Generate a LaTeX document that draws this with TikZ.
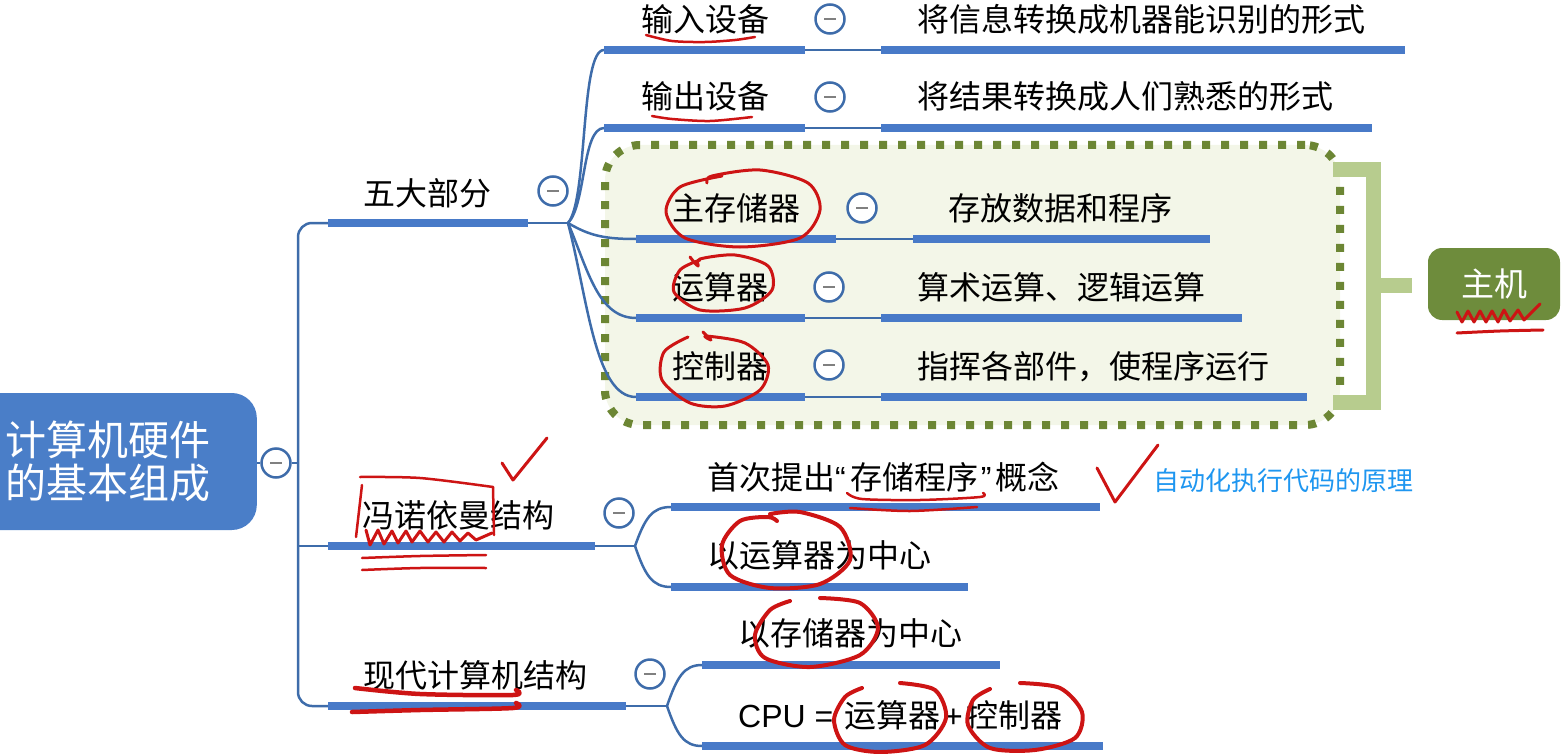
\documentclass[tikz,border=0pt]{standalone}
\usepackage{fontspec}
\setmainfont{Noto Sans CJK SC}
\newfontfamily\latinfont{Liberation Sans}
\definecolor{barblue}{RGB}{72,122,200}
\definecolor{lineblue}{RGB}{62,108,170}
\definecolor{rootblue}{RGB}{74,126,200}
\definecolor{olivedot}{RGB}{108,134,52}
\definecolor{boxfill}{RGB}{243,246,232}
\definecolor{brk}{RGB}{183,204,142}
\definecolor{hostgreen}{RGB}{110,140,60}
\definecolor{penred}{RGB}{205,20,20}
\definecolor{noteblue}{RGB}{30,150,240}
\begin{document}
\begin{tikzpicture}[x=1pt,y=-1pt,
 lbl/.style={anchor=west, inner sep=0, font=\fontsize{32}{34}\selectfont, text height=28pt, text depth=4pt},
 note/.style={anchor=west, inner sep=0, font=\fontsize{26}{28}\selectfont, text=noteblue, text height=23pt, text depth=3pt},
 bar/.style={barblue, line width=8pt},
 thinl/.style={lineblue, line width=2.5pt},
 tog/.style={circle, draw=lineblue, line width=2.5pt, fill=white, minimum size=29pt, inner sep=0,
   path picture={\draw[gray, line width=2.5pt] ([xshift=-6pt]path picture bounding box.center) -- ([xshift=6pt]path picture bounding box.center);}},
 pen/.style={penred, line width=3pt, line cap=round, line join=round},
]
\useasboundingbox (0,0) rectangle (1562,754);

% ---------- group box and bracket ----------
\node[draw=olivedot, line width=8pt, dash pattern=on 8pt off 11pt, fill=boxfill, rounded corners=35pt,
      minimum width=735pt, minimum height=280pt, inner sep=0] (grp) at (972.5,285) {};
\draw[brk, line width=15pt] (1333,170) -- (1373,170) -- (1373,402) -- (1333,402);
\coordinate (brkmid) at (1373,285);
\coordinate (brkend) at (1412,285);
\draw[brk, line width=15pt] (brkmid) -- (brkend);
\node[fill=hostgreen, rounded corners=14pt, minimum width=132pt, minimum height=72pt, inner sep=0,
      text=white, font=\fontsize{33}{35}\selectfont] (host) at (1494,284) {主机};

% ---------- root ----------
\node[fill=rootblue, rounded corners=25pt, minimum width=290pt, minimum height=137pt, inner sep=0, anchor=east] (root) at (257,461.5) {};
\node[anchor=west, inner sep=0, align=left, text=white, font=\fontsize{41}{43}\selectfont] (roottext) at (5,461.5) {计算机硬件\\的基本组成};
\node[tog] (t0) at (276,463) {};
\coordinate (trunk) at (298,463);
\draw[thinl] (root.east |- t0) -- (t0.west);
\draw[thinl] (t0.east) -- (trunk);
\coordinate (b1s) at (328,223);
\coordinate (b2s) at (328,546);
\coordinate (b3s) at (328,706);
\draw[thinl, rounded corners=14pt] (b1s) -- (298,223) -- (298,706) -- (b3s);
\draw[thinl] (298,546) -- (b2s);

% ---------- branch 1: 五大部分 ----------
\coordinate (b1e) at (528,223);
\coordinate (b1j) at (568,223);
\draw[bar] (b1s) -- (b1e);
\draw[thinl] (b1e) -- (b1j);
\node[lbl] (n1) at (363,193) {五大部分};
\node[tog] (t1) at (553,191) {};

% children rows: name bar, toggle, description bar
\coordinate (c1s) at (604,50);  \coordinate (c1e) at (805,50);  \coordinate (d1s) at (881,50);  \coordinate (d1e) at (1405,50);
\coordinate (c2s) at (604,128); \coordinate (c2e) at (805,128); \coordinate (d2s) at (881,128); \coordinate (d2e) at (1372,128);
\coordinate (c3s) at (636,239); \coordinate (c3e) at (836,239); \coordinate (d3s) at (913,239); \coordinate (d3e) at (1210,239);
\coordinate (c4s) at (636,318); \coordinate (c4e) at (805,318); \coordinate (d4s) at (881,318); \coordinate (d4e) at (1242,318);
\coordinate (c5s) at (636,397); \coordinate (c5e) at (805,397); \coordinate (d5s) at (881,397); \coordinate (d5e) at (1307,397);

\draw[thinl] (b1j) .. controls (588,200) and (580,50) .. (c1s);
\draw[thinl] (b1j) .. controls (586,205) and (582,128) .. (c2s);
\draw[thinl] (b1j) .. controls (590,236) and (605,239) .. (c3s);
\draw[thinl] (b1j) .. controls (588,270) and (598,318) .. (c4s);
\draw[thinl] (b1j) .. controls (588,300) and (595,397) .. (c5s);

\foreach \i in {1,...,5}{
  \draw[bar] (c\i s) -- (c\i e);
  \draw[thinl] (c\i e) -- (d\i s);
  \draw[bar] (d\i s) -- (d\i e);
}
\node[tog] (tc1) at (830,19) {};
\node[tog] (tc2) at (830,97) {};
\node[tog] (tc3) at (862,208) {};
\node[tog] (tc4) at (829,287) {};
\node[tog] (tc5) at (829,365) {};

\node[lbl] (c1) at (641,20) {输入设备};
\node[lbl] (c2) at (641,97) {输出设备};
\node[lbl] (c3) at (672,208) {主存储器};
\node[lbl] (c4) at (672,287) {运算器};
\node[lbl] (c5) at (672,366) {控制器};
\node[lbl] (d1) at (917,20) {将信息转换成机器能识别的形式};
\node[lbl] (d2) at (917,97) {将结果转换成人们熟悉的形式};
\node[lbl] (d3) at (948,208) {存放数据和程序};
\node[lbl] (d4) at (917,287) {算术运算、逻辑运算};
\node[lbl] (d5) at (917,366) {指挥各部件，使程序运行};

% ---------- branch 2: 冯诺依曼结构 ----------
\coordinate (b2e) at (595,546);
\coordinate (b2j) at (635,546);
\draw[bar] (b2s) -- (b2e);
\draw[thinl] (b2e) -- (b2j);
\node[lbl] (n2) at (362,515) {冯诺依曼结构};
\node[tog] (t2) at (619,513) {};
\coordinate (e1s) at (671,507); \coordinate (e1e) at (1100,507);
\coordinate (e2s) at (671,587); \coordinate (e2e) at (968,587);
\draw[thinl] (b2j) .. controls (645,518) and (652,507) .. (e1s);
\draw[thinl] (b2j) .. controls (645,575) and (652,587) .. (e2s);
\draw[bar] (e1s) -- (e1e);
\draw[bar] (e2s) -- (e2e);
\node[lbl] (e1) at (707,477) {首次提出{\latinfont “}\kern5pt 存储程序\kern2pt{\latinfont ”}\kern4pt 概念};
\node[lbl] (e2) at (707,555) {以运算器为中心};
\node[note] (nt) at (1153,480) {自动化执行代码的原理};

% ---------- branch 3: 现代计算机结构 ----------
\coordinate (b3e) at (626,706);
\coordinate (b3j) at (667,706);
\draw[bar] (b3s) -- (b3e);
\draw[thinl] (b3e) -- (b3j);
\node[lbl] (n3) at (363,675) {现代计算机结构};
\node[tog] (t3) at (650,674) {};
\coordinate (f1s) at (702,665); \coordinate (f1e) at (1000,665);
\coordinate (f2s) at (702,746); \coordinate (f2e) at (1103,746);
\draw[thinl] (b3j) .. controls (677,677) and (684,665) .. (f1s);
\draw[thinl] (b3j) .. controls (677,735) and (684,746) .. (f2s);
\draw[bar] (f1s) -- (f1e);
\draw[bar] (f2s) -- (f2e);
\node[lbl] (f1) at (738,633) {以存储器为中心};
\node[lbl] (f2) at (738,715) {{\latinfont CPU = }\kern2pt 运算器\kern4pt{\latinfont +}\kern4pt 控制器};

% ---------- red pen annotations ----------
\draw[pen, line width=2.5pt] plot[smooth] coordinates {(646,35) (672,41) (705,42) (735,40) (755,37)};
\draw[pen, line width=2.5pt] plot[smooth] coordinates {(652,116) (672,119) (710,121) (752,117)};
\draw[pen] plot[smooth] coordinates {(707,183) (712,176) (760,170) (808,183) (820,210) (800,238) (740,247) (685,238) (666,212) (680,187) (722,176)};
\draw[pen] plot[smooth] coordinates {(690,257) (698,266) (700,259) (735,255) (768,266) (772,290) (745,308) (700,310) (674,292) (680,270) (700,260)};
\draw[pen] plot[smooth] coordinates {(703,332) (711,340) (706,336) (745,343) (768,365) (760,390) (725,406) (690,403) (662,380) (664,352) (688,337)};
\draw[pen] plot coordinates {(1457,312) (1462,322) (1468,311) (1474,322) (1480,311) (1486,322) (1492,311) (1498,322) (1504,310) (1510,321) (1518,310) (1524,320) (1540,304)};
\draw[pen] plot[smooth] coordinates {(1457,333) (1500,331) (1543,330)};
% 冯诺依曼
\draw[pen] (502,463) -- (513,480) -- (547,438);
\draw[pen, line width=2.5pt] plot[smooth] coordinates {(360,477) (420,478) (493,487)};
\draw[pen, line width=2.5pt] (493,487) -- (494,535);
\draw[pen, line width=2.5pt] (362,485) -- (356,537);
\draw[pen] plot coordinates {(366,530) (370,545) (378,530) (384,544) (392,531) (398,543) (406,531) (412,542) (420,531) (428,542) (436,532) (444,542) (452,532) (460,541) (468,533) (476,540) (492,533)};
\draw[pen, line width=2.5pt] plot[smooth] coordinates {(362,558) (420,556) (486,555)};
\draw[pen, line width=2.5pt] plot[smooth] coordinates {(362,570) (420,568) (486,568)};
% 存储程序
\draw[pen] (1097,468) -- (1115,502) -- (1158,445);
\draw[pen, line width=2.5pt] plot[smooth] coordinates {(847,493) (862,499) (920,500) (980,497) (983,493)};
\draw[pen, line width=2.5pt] plot[smooth] coordinates {(850,508) (910,511) (977,507)};
\draw[pen, line width=4pt] plot[smooth] coordinates {(777,521) (768,517) (740,521) (722,545) (730,575) (770,588) (820,584) (850,560) (840,527) (800,512) (770,514)};
% 现代计算机结构
\draw[pen, line width=4.5pt] plot[smooth] coordinates {(355,688) (420,694) (513,695) (516,690)};
\draw[pen, line width=4.5pt] plot[smooth] coordinates {(352,712) (420,710) (513,708) (516,703)};
\draw[pen, line width=4pt] plot[smooth] coordinates {(790,601) (770,610) (755,635) (765,658) (810,667) (860,655) (878,628) (860,603) (820,598)};
\draw[pen, line width=4pt] plot[smooth] coordinates {(862,688) (845,697) (834,720) (845,745) (880,752) (925,745) (946,718) (935,690) (900,683)};
\draw[pen, line width=4pt] plot[smooth] coordinates {(990,689) (973,700) (968,725) (990,748) (1035,750) (1075,738) (1082,712) (1060,688) (1020,683)};
\end{tikzpicture}
\end{document}
